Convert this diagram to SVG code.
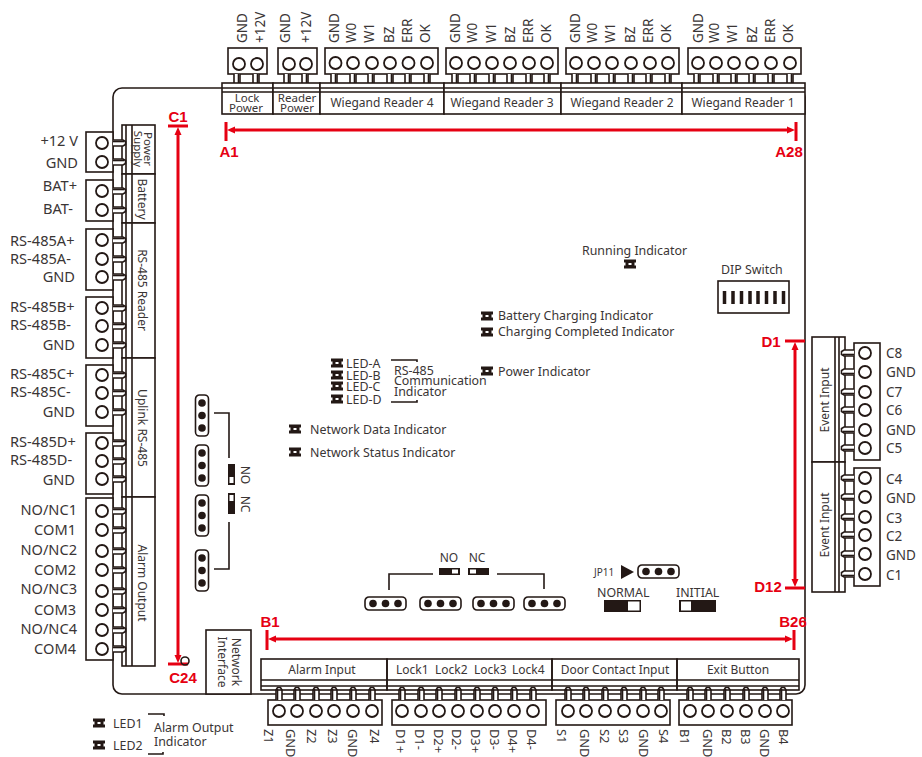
<svg xmlns="http://www.w3.org/2000/svg" width="922" height="757" viewBox="0 0 922 757">
<style>
.l{fill:none;stroke:#231815;stroke-width:1.6}
.b{fill:#fff;stroke:#231815;stroke-width:1.6}
.c{fill:#fff;stroke:#231815;stroke-width:1.8}
.t{font-family:"Noto Sans","Open Sans",sans-serif;font-size:13.5px;fill:#3a3535}
.m{text-anchor:middle}
.e{text-anchor:end}
.s{font-size:12px}
.i{font-size:12.4px}
.w{font-size:14.6px}
.n{font-size:11.5px}
.z{font-size:12.8px}
.r{font-family:"Liberation Sans",Arial,sans-serif;font-size:15px;font-weight:700;fill:#e60012;text-anchor:middle}
.a{stroke:#e60012;stroke-width:3;fill:none}
</style>
<defs>
<marker id="h" markerUnits="userSpaceOnUse" markerWidth="9" markerHeight="9" refX="0" refY="4.5" orient="auto-start-reverse"><path d="M0 1L8 4.5L0 8z" fill="#e60012"/></marker>
<circle id="o" r="6" class="c"/>
<g id="pd"><path class="b" d="M-3 0V10L-1.500 12.500H1.500L3 10V0"/><path d="M1.500 0V11" stroke="#231815" stroke-width="1.6"/></g>
<use id="pr" href="#pd" transform="rotate(-90)"/>
<use id="pl" href="#pd" transform="rotate(90)"/>
<use id="pu" href="#pd" transform="rotate(180)"/>
<g id="jh"><rect x="0" y="0" width="41" height="13" rx="4" class="b"/><circle cx="8" cy="6.500" r="3.800" fill="#231815"/><circle cx="20.500" cy="6.500" r="3.800" fill="#231815"/><circle cx="33" cy="6.500" r="3.800" fill="#231815"/></g>
<g id="jv"><rect x="-6.500" y="0" width="13" height="41" rx="4" class="b"/><circle cx="0" cy="8" r="3.800" fill="#231815"/><circle cx="0" cy="20.500" r="3.800" fill="#231815"/><circle cx="0" cy="33" r="3.800" fill="#231815"/></g>
<g id="led"><path d="M-6-4.500H6V-1.500H4.500V1.500H6V4.500H-6V1.500H-4.500V-1.500H-6z" fill="#231815"/><rect x="-1.500" y="-1" width="3" height="2" fill="#fff"/></g>
</defs>
<g id="board"><rect x="113" y="88" width="692" height="606" rx="9" class="l" fill="#fff"/></g>

<g id="lock-power">
<rect x="228" y="48" width="39" height="26" class="b"/>
<use href="#o" x="239" y="64"/><use href="#o" x="257" y="64"/>
<use href="#pd" x="237" y="74"/><use href="#pd" x="256" y="74"/>
<rect x="222" y="83" width="51" height="31" class="b"/><path class="l" d="M222 88H273M222 92H273"/>
<text class="t m n" x="247" y="102">Lock</text><text class="t m n" x="246" y="112">Power</text>
<text class="t" transform="translate(247,43) rotate(-90)">GND</text><text class="t" transform="translate(265,43) rotate(-90)">+12V</text>
</g>
<g id="reader-power">
<rect x="278" y="48" width="39" height="26" class="b"/>
<use href="#o" x="289" y="64"/><use href="#o" x="306" y="64"/>
<use href="#pd" x="287" y="74"/><use href="#pd" x="305" y="74"/>
<rect x="273" y="83" width="47" height="31" class="b"/><path class="l" d="M273 88H320M273 92H320"/>
<text class="t m n" x="297" y="102">Reader</text><text class="t m n" x="297" y="112">Power</text>
<text class="t" transform="translate(290,43) rotate(-90)">GND</text><text class="t" transform="translate(311,43) rotate(-90)">+12V</text>
</g>
<g id="wiegand-4">
<rect x="325" y="48" width="113" height="26" class="b"/>
<use href="#o" x="335.500" y="63"/><use href="#o" x="353" y="63"/><use href="#o" x="372" y="63"/><use href="#o" x="390" y="63"/><use href="#o" x="408.500" y="63"/><use href="#o" x="427" y="63"/>
<use href="#pd" x="334" y="74"/><use href="#pd" x="353" y="74"/><use href="#pd" x="371" y="74"/><use href="#pd" x="390" y="74"/><use href="#pd" x="408" y="74"/><use href="#pd" x="427" y="74"/>
<rect x="320" y="83" width="124" height="31" class="b"/><path class="l" d="M320 88H444M320 92H444"/>
<text class="t m s" x="382" y="107">Wiegand Reader 4</text>
<text class="t" transform="translate(339,43) rotate(-90)">GND</text><text class="t" transform="translate(356,43) rotate(-90)">W0</text><text class="t" transform="translate(374,43) rotate(-90)">W1</text><text class="t" transform="translate(394,43) rotate(-90)">BZ</text><text class="t" transform="translate(412,43) rotate(-90)">ERR</text><text class="t" transform="translate(430,43) rotate(-90)">OK</text>
</g>
<g id="wiegand-3">
<rect x="446" y="48" width="112" height="26" class="b"/>
<use href="#o" x="456" y="63"/><use href="#o" x="474" y="63"/><use href="#o" x="492" y="63"/><use href="#o" x="510" y="63"/><use href="#o" x="529" y="63"/><use href="#o" x="547" y="63"/>
<use href="#pd" x="455" y="74"/><use href="#pd" x="473" y="74"/><use href="#pd" x="492" y="74"/><use href="#pd" x="510" y="74"/><use href="#pd" x="529" y="74"/><use href="#pd" x="547" y="74"/>
<rect x="444" y="83" width="117" height="31" class="b"/><path class="l" d="M444 88H561M444 92H561"/>
<text class="t m s" x="502" y="107">Wiegand Reader 3</text>
<text class="t" transform="translate(460,43) rotate(-90)">GND</text><text class="t" transform="translate(477,43) rotate(-90)">W0</text><text class="t" transform="translate(496,43) rotate(-90)">W1</text><text class="t" transform="translate(515,43) rotate(-90)">BZ</text><text class="t" transform="translate(533,43) rotate(-90)">ERR</text><text class="t" transform="translate(551,43) rotate(-90)">OK</text>
</g>
<g id="wiegand-2">
<rect x="566" y="48" width="113" height="26" class="b"/>
<use href="#o" x="576" y="63"/><use href="#o" x="594" y="63"/><use href="#o" x="612" y="63"/><use href="#o" x="631" y="63"/><use href="#o" x="650" y="63"/><use href="#o" x="668" y="63"/>
<use href="#pd" x="575" y="74"/><use href="#pd" x="594" y="74"/><use href="#pd" x="612" y="74"/><use href="#pd" x="631" y="74"/><use href="#pd" x="649" y="74"/><use href="#pd" x="668" y="74"/>
<rect x="561" y="83" width="121" height="31" class="b"/><path class="l" d="M561 88H682M561 92H682"/>
<text class="t m s" x="622" y="107">Wiegand Reader 2</text>
<text class="t" transform="translate(580,43) rotate(-90)">GND</text><text class="t" transform="translate(597,43) rotate(-90)">W0</text><text class="t" transform="translate(615,43) rotate(-90)">W1</text><text class="t" transform="translate(635,43) rotate(-90)">BZ</text><text class="t" transform="translate(653,43) rotate(-90)">ERR</text><text class="t" transform="translate(671,43) rotate(-90)">OK</text>
</g>
<g id="wiegand-1">
<rect x="688" y="48" width="113" height="26" class="b"/>
<use href="#o" x="698" y="63"/><use href="#o" x="716" y="63"/><use href="#o" x="734" y="63"/><use href="#o" x="752" y="63"/><use href="#o" x="771" y="63"/><use href="#o" x="790" y="63"/>
<use href="#pd" x="697" y="74"/><use href="#pd" x="716" y="74"/><use href="#pd" x="734" y="74"/><use href="#pd" x="752" y="74"/><use href="#pd" x="771" y="74"/><use href="#pd" x="790" y="74"/>
<rect x="682" y="83" width="123" height="31" class="b"/><path class="l" d="M682 88H805M682 92H805"/>
<text class="t m s" x="743" y="107">Wiegand Reader 1</text>
<text class="t" transform="translate(703,43) rotate(-90)">GND</text><text class="t" transform="translate(719,43) rotate(-90)">W0</text><text class="t" transform="translate(737,43) rotate(-90)">W1</text><text class="t" transform="translate(757,43) rotate(-90)">BZ</text><text class="t" transform="translate(775,43) rotate(-90)">ERR</text><text class="t" transform="translate(793,43) rotate(-90)">OK</text>
</g>

<g id="power-supply">
<rect x="122" y="125" width="33" height="49" class="b"/><path class="l" d="M126 125V174M132 125V174"/>
<rect x="86" y="132" width="27" height="40" class="b"/>
<use href="#o" x="102" y="143"/><use href="#o" x="102" y="162"/>
<use href="#pr" x="113" y="143"/><use href="#pr" x="113" y="162"/>
<text class="t m n" transform="translate(144,149) rotate(90)">Power</text><text class="t m n" transform="translate(134,149) rotate(90)">Supply</text>
<text class="t e w" x="78" y="146">+12 V</text><text class="t e w" x="78" y="168">GND</text>
</g>
<g id="battery">
<rect x="122" y="174" width="33" height="49" class="b"/><path class="l" d="M126 174V223M132 174V223"/>
<rect x="86" y="180" width="27" height="41" class="b"/>
<use href="#o" x="102" y="191"/><use href="#o" x="102" y="210"/>
<use href="#pr" x="113" y="191"/><use href="#pr" x="113" y="210"/>
<text class="t m s" transform="translate(138,199) rotate(90)">Battery</text>
<text class="t e w" x="77" y="191">BAT+</text><text class="t e w" x="73" y="214">BAT-</text>
</g>
<g id="rs485-reader">
<rect x="122" y="223" width="33" height="135" class="b"/><path class="l" d="M126 223V358M132 223V358"/>
<rect x="86" y="229" width="27" height="61" class="b"/>
<rect x="86" y="297" width="27" height="61" class="b"/>
<use href="#o" x="102" y="240"/><use href="#o" x="102" y="259"/><use href="#o" x="102" y="277"/>
<use href="#o" x="102" y="308"/><use href="#o" x="102" y="326"/><use href="#o" x="102" y="345"/>
<use href="#pr" x="113" y="240"/><use href="#pr" x="113" y="259"/><use href="#pr" x="113" y="277"/>
<use href="#pr" x="113" y="308"/><use href="#pr" x="113" y="326"/><use href="#pr" x="113" y="345"/>
<text class="t m s" transform="translate(138,290) rotate(90)">RS-485 Reader</text>
<text class="t w" x="10" y="246">RS-485A+</text><text class="t w" x="10" y="264">RS-485A-</text><text class="t e w" x="75" y="282">GND</text>
<text class="t w" x="10" y="312">RS-485B+</text><text class="t w" x="10" y="330">RS-485B-</text><text class="t e w" x="75" y="350">GND</text>
</g>
<g id="uplink-rs485">
<rect x="122" y="358" width="33" height="139" class="b"/><path class="l" d="M126 358V497M132 358V497"/>
<rect x="86" y="365" width="27" height="61" class="b"/>
<rect x="86" y="433" width="27" height="61" class="b"/>
<use href="#o" x="102" y="375"/><use href="#o" x="102" y="393"/><use href="#o" x="102" y="412"/>
<use href="#o" x="102" y="443"/><use href="#o" x="102" y="461"/><use href="#o" x="102" y="479"/>
<use href="#pr" x="113" y="375"/><use href="#pr" x="113" y="393"/><use href="#pr" x="113" y="412"/>
<use href="#pr" x="113" y="443"/><use href="#pr" x="113" y="461"/><use href="#pr" x="113" y="479"/>
<text class="t m s" transform="translate(138,428) rotate(90)">Uplink RS-485</text>
<text class="t w" x="10" y="379">RS-485C+</text><text class="t w" x="10" y="397">RS-485C-</text><text class="t e w" x="75" y="417">GND</text>
<text class="t w" x="10" y="447">RS-485D+</text><text class="t w" x="10" y="465">RS-485D-</text><text class="t e w" x="75" y="485">GND</text>
</g>
<g id="alarm-output">
<rect x="122" y="497" width="33" height="169" class="b"/><path class="l" d="M126 497V666M132 497V666"/>
<rect x="86" y="498" width="27" height="162" class="b"/>
<use href="#o" x="102" y="511"/><use href="#o" x="102" y="530"/><use href="#o" x="102" y="551"/><use href="#o" x="102" y="570"/><use href="#o" x="102" y="591"/><use href="#o" x="102" y="610"/><use href="#o" x="102" y="630"/><use href="#o" x="102" y="649"/>
<use href="#pr" x="113" y="511"/><use href="#pr" x="113" y="530"/><use href="#pr" x="113" y="551"/><use href="#pr" x="113" y="570"/><use href="#pr" x="113" y="591"/><use href="#pr" x="113" y="610"/><use href="#pr" x="113" y="630"/><use href="#pr" x="113" y="649"/>
<text class="t m s" transform="translate(138,583) rotate(90)">Alarm Output</text>
<text class="t e w" x="77" y="515">NO/NC1</text><text class="t e w" x="76" y="535">COM1</text><text class="t e w" x="77" y="555">NO/NC2</text><text class="t e w" x="76" y="575">COM2</text><text class="t e w" x="77" y="594">NO/NC3</text><text class="t e w" x="76" y="615">COM3</text><text class="t e w" x="77" y="634">NO/NC4</text><text class="t e w" x="76" y="654">COM4</text>
</g>

<g id="event-input-1">
<rect x="854" y="343" width="26" height="117" class="b"/>
<rect x="812" y="337" width="33" height="125" class="b"/><path class="l" d="M835 337V462M839 337V462"/>
<use href="#o" x="865" y="353"/><use href="#o" x="865" y="372"/><use href="#o" x="865" y="392"/><use href="#o" x="865" y="410"/><use href="#o" x="865" y="430"/><use href="#o" x="865" y="448"/>
<use href="#pl" x="854" y="353"/><use href="#pl" x="854" y="372"/><use href="#pl" x="854" y="392"/><use href="#pl" x="854" y="410"/><use href="#pl" x="854" y="430"/><use href="#pl" x="854" y="448"/>
<text class="t m s" transform="translate(829,400) rotate(-90)">Event Input</text>
<text class="t" x="886" y="358">C8</text><text class="t" x="886" y="377">GND</text><text class="t" x="886" y="397">C7</text><text class="t" x="886" y="415">C6</text><text class="t" x="886" y="435">GND</text><text class="t" x="886" y="453">C5</text>
</g>
<g id="event-input-2">
<rect x="854" y="468" width="26" height="118" class="b"/>
<rect x="812" y="462" width="33" height="130" class="b"/><path class="l" d="M835 462V592M839 462V592"/>
<use href="#o" x="865" y="478"/><use href="#o" x="865" y="497"/><use href="#o" x="865" y="517"/><use href="#o" x="865" y="535"/><use href="#o" x="865" y="554"/><use href="#o" x="865" y="574"/>
<use href="#pl" x="854" y="478"/><use href="#pl" x="854" y="497"/><use href="#pl" x="854" y="517"/><use href="#pl" x="854" y="535"/><use href="#pl" x="854" y="554"/><use href="#pl" x="854" y="574"/>
<text class="t m s" transform="translate(829,525) rotate(-90)">Event Input</text>
<text class="t" x="886" y="484">C4</text><text class="t" x="886" y="503">GND</text><text class="t" x="886" y="523">C3</text><text class="t" x="886" y="541">C2</text><text class="t" x="886" y="560">GND</text><text class="t" x="886" y="580">C1</text>
</g>

<g id="network-interface">
<rect x="206" y="630" width="45" height="64" class="b"/>
<text class="t m s" transform="translate(232,662) rotate(90)">Network</text><text class="t m s" transform="translate(218,662) rotate(90)">Interface</text>
</g>

<g id="alarm-input">
<rect x="268" y="700" width="114" height="25" class="b"/>
<use href="#o" x="279" y="711"/><use href="#o" x="297" y="711"/><use href="#o" x="316" y="711"/><use href="#o" x="334" y="711"/><use href="#o" x="353" y="711"/><use href="#o" x="372" y="711"/>
<use href="#pu" x="279" y="700"/><use href="#pu" x="297" y="700"/><use href="#pu" x="316" y="700"/><use href="#pu" x="334" y="700"/><use href="#pu" x="353" y="700"/><use href="#pu" x="372" y="700"/>
<rect x="261" y="659" width="126" height="31" class="b" fill-opacity="0"/><path class="l" d="M261 680H387M261 686H387"/>
<text class="t m s" x="322" y="674">Alarm Input</text>
<text class="t z" transform="translate(264,729) rotate(90)">Z1</text><text class="t z" transform="translate(286,729) rotate(90)">GND</text><text class="t z" transform="translate(307,729) rotate(90)">Z2</text><text class="t z" transform="translate(328,729) rotate(90)">Z3</text><text class="t z" transform="translate(348,729) rotate(90)">GND</text><text class="t z" transform="translate(370,729) rotate(90)">Z4</text>
</g>
<g id="lock-terminals">
<rect x="392" y="700" width="154" height="25" class="b"/>
<use href="#o" x="402" y="711"/><use href="#o" x="421" y="711"/><use href="#o" x="439" y="711"/><use href="#o" x="458" y="711"/><use href="#o" x="477" y="711"/><use href="#o" x="495" y="711"/><use href="#o" x="514" y="711"/><use href="#o" x="533" y="711"/>
<use href="#pu" x="402" y="700"/><use href="#pu" x="421" y="700"/><use href="#pu" x="439" y="700"/><use href="#pu" x="458" y="700"/><use href="#pu" x="477" y="700"/><use href="#pu" x="495" y="700"/><use href="#pu" x="514" y="700"/><use href="#pu" x="533" y="700"/>
<rect x="387" y="659" width="165" height="31" class="b" fill-opacity="0"/><path class="l" d="M387 680H552M387 686H552"/>
<text class="t s" x="396" y="674">Lock1</text><text class="t s" x="435" y="674">Lock2</text><text class="t s" x="474" y="674">Lock3</text><text class="t s" x="512" y="674">Lock4</text>
<text class="t z" transform="translate(396,729) rotate(90)">D1+</text><text class="t z" transform="translate(415,729) rotate(90)">D1-</text><text class="t z" transform="translate(434,729) rotate(90)">D2+</text><text class="t z" transform="translate(452,729) rotate(90)">D2-</text><text class="t z" transform="translate(471,729) rotate(90)">D3+</text><text class="t z" transform="translate(490,729) rotate(90)">D3-</text><text class="t z" transform="translate(508,729) rotate(90)">D4+</text><text class="t z" transform="translate(527,729) rotate(90)">D4-</text>
</g>
<g id="door-contact-input">
<rect x="556" y="700" width="114" height="25" class="b"/>
<use href="#o" x="568" y="711"/><use href="#o" x="586" y="711"/><use href="#o" x="605" y="711"/><use href="#o" x="624" y="711"/><use href="#o" x="643" y="711"/><use href="#o" x="661" y="711"/>
<use href="#pu" x="568" y="700"/><use href="#pu" x="586" y="700"/><use href="#pu" x="605" y="700"/><use href="#pu" x="624" y="700"/><use href="#pu" x="643" y="700"/><use href="#pu" x="661" y="700"/>
<rect x="552" y="659" width="125" height="31" class="b" fill-opacity="0"/><path class="l" d="M552 680H677M552 686H677"/>
<text class="t m s" x="615" y="674">Door Contact Input</text>
<text class="t z" transform="translate(557,729) rotate(90)">S1</text><text class="t z" transform="translate(580,729) rotate(90)">GND</text><text class="t z" transform="translate(600,729) rotate(90)">S2</text><text class="t z" transform="translate(619,729) rotate(90)">S3</text><text class="t z" transform="translate(639,729) rotate(90)">GND</text><text class="t z" transform="translate(659,729) rotate(90)">S4</text>
</g>
<g id="exit-button">
<rect x="679" y="700" width="113" height="25" class="b"/>
<use href="#o" x="690" y="711"/><use href="#o" x="708" y="711"/><use href="#o" x="727" y="711"/><use href="#o" x="746" y="711"/><use href="#o" x="765" y="711"/><use href="#o" x="783" y="711"/>
<use href="#pu" x="690" y="700"/><use href="#pu" x="708" y="700"/><use href="#pu" x="727" y="700"/><use href="#pu" x="746" y="700"/><use href="#pu" x="765" y="700"/><use href="#pu" x="783" y="700"/>
<rect x="677" y="659" width="122" height="31" class="b" fill-opacity="0"/><path class="l" d="M677 680H799M677 686H799"/>
<text class="t m s" x="738" y="674">Exit Button</text>
<text class="t z" transform="translate(680,729) rotate(90)">B1</text><text class="t z" transform="translate(703,729) rotate(90)">GND</text><text class="t z" transform="translate(722,729) rotate(90)">B2</text><text class="t z" transform="translate(741,729) rotate(90)">B3</text><text class="t z" transform="translate(760,729) rotate(90)">GND</text><text class="t z" transform="translate(779,729) rotate(90)">B4</text>
</g>

<g id="connectors">
<path class="a" d="M226 122V141M796 122V141M168 126H188M168 664H188M785 341H805M785 588H805M267 630V650M794 630V650"/>
<line class="a" x1="235" y1="130" x2="787" y2="130" marker-start="url(#h)" marker-end="url(#h)"/>
<line class="a" x1="178" y1="135" x2="178" y2="655" marker-start="url(#h)" marker-end="url(#h)"/>
<line class="a" x1="795" y1="350" x2="795" y2="579" marker-start="url(#h)" marker-end="url(#h)"/>
<line class="a" x1="276" y1="639" x2="785" y2="639" marker-start="url(#h)" marker-end="url(#h)"/>
<path class="l" d="M214 413H229V458M229 522V569H214M389 590V574H433M497 574H544V589M391 360H417V362M391 402H417V400M148 714H164V716M148 754H163V752"/>
</g>

<g id="dimension-labels">
<text class="r" x="178" y="122">C1</text><text class="r" x="183" y="683">C24</text><text class="r" x="229" y="157">A1</text><text class="r" x="789" y="157">A28</text><text class="r" x="771" y="347">D1</text><text class="r" x="768" y="592">D12</text><text class="r" x="270" y="627">B1</text><text class="r" x="793" y="627">B26</text>
</g>
<g id="mount-hole"><circle cx="185" cy="661" r="4" class="l"/></g>

<g id="running-indicator"><use href="#led" x="630" y="264"/><text class="t i" x="582" y="255">Running Indicator</text></g>
<g id="dip-switch">
<text class="t i" x="721" y="274">DIP Switch</text>
<rect x="718" y="281" width="71" height="32" class="b"/>
<path d="M724.500 291V304M733 291V304M741.500 291V304M750 291V304M758 291V304M766.500 291V304M775 291V304M783.500 291V304" stroke="#231815" stroke-width="3.500"/>
</g>
<g id="battery-charging"><use href="#led" x="487" y="316"/><text class="t i" x="498" y="320">Battery Charging Indicator</text></g>
<g id="charging-completed"><use href="#led" x="487" y="332"/><text class="t i" x="498" y="336">Charging Completed Indicator</text></g>
<g id="power-indicator"><use href="#led" x="487" y="371"/><text class="t i" x="498" y="376">Power Indicator</text></g>
<g id="rs485-leds">
<use href="#led" x="337" y="363"/><use href="#led" x="337" y="375"/><use href="#led" x="337" y="386"/><use href="#led" x="337" y="399"/>
<text class="t i" x="346" y="368">LED-A</text><text class="t i" x="346" y="380">LED-B</text><text class="t i" x="346" y="391">LED-C</text><text class="t i" x="346" y="404">LED-D</text>
<text class="t i" x="394" y="375">RS-485</text><text class="t i" x="394" y="385">Communication</text><text class="t i" x="394" y="396">Indicator</text>
</g>
<g id="network-data"><use href="#led" x="295" y="429"/><text class="t i" x="310" y="434">Network Data Indicator</text></g>
<g id="network-status"><use href="#led" x="295" y="452"/><text class="t i" x="310" y="457">Network Status Indicator</text></g>

<g id="jumpers-left">
<use href="#jv" x="202" y="395"/><use href="#jv" x="202" y="445"/><use href="#jv" x="202" y="495"/><use href="#jv" x="202" y="550"/>
<rect x="228" y="464" width="7" height="21" fill="#231815"/><rect x="229.500" y="477" width="4" height="6" fill="#fff"/>
<rect x="228" y="493" width="7" height="21" fill="#231815"/><rect x="229.500" y="495" width="4" height="6" fill="#fff"/>
<text class="t m s" transform="translate(241,475) rotate(90)">NO</text><text class="t m s" transform="translate(241,504) rotate(90)">NC</text>
</g>
<g id="jumpers-bottom">
<use href="#jh" x="365" y="597"/><use href="#jh" x="420" y="597"/><use href="#jh" x="473" y="597"/><use href="#jh" x="524" y="597"/>
<rect x="439" y="568" width="21" height="7" fill="#231815"/><rect x="452" y="569.500" width="6" height="4" fill="#fff"/>
<rect x="468" y="568" width="21" height="7" fill="#231815"/><rect x="470" y="569.500" width="6" height="4" fill="#fff"/>
<text class="t m s" x="449" y="562">NO</text><text class="t m s" x="477" y="562">NC</text>
</g>
<g id="jp11">
<text class="t" style="font-size:10px" x="594" y="576">JP11</text>
<path d="M621 565L634 572L621 579z" fill="#231815"/>
<use href="#jh" x="638" y="565"/>
</g>
<g id="normal-switch">
<text class="t i" x="597" y="597">NORMAL</text>
<rect x="604" y="600" width="37" height="12" fill="#231815"/><rect x="628" y="601.500" width="11.500" height="9" fill="#fff"/>
</g>
<g id="initial-switch">
<text class="t i" x="676" y="597">INITIAL</text>
<rect x="679" y="600" width="37" height="12" fill="#231815"/><rect x="681" y="601.500" width="10" height="9" fill="#fff"/>
</g>
<g id="alarm-output-indicator">
<use href="#led" x="99" y="723"/><use href="#led" x="99" y="745"/>
<text class="t i" x="113" y="728">LED1</text><text class="t i" x="113" y="750">LED2</text>
<text class="t i" x="154" y="732">Alarm Output</text><text class="t i" x="154" y="746">Indicator</text>
</g>
</svg>
